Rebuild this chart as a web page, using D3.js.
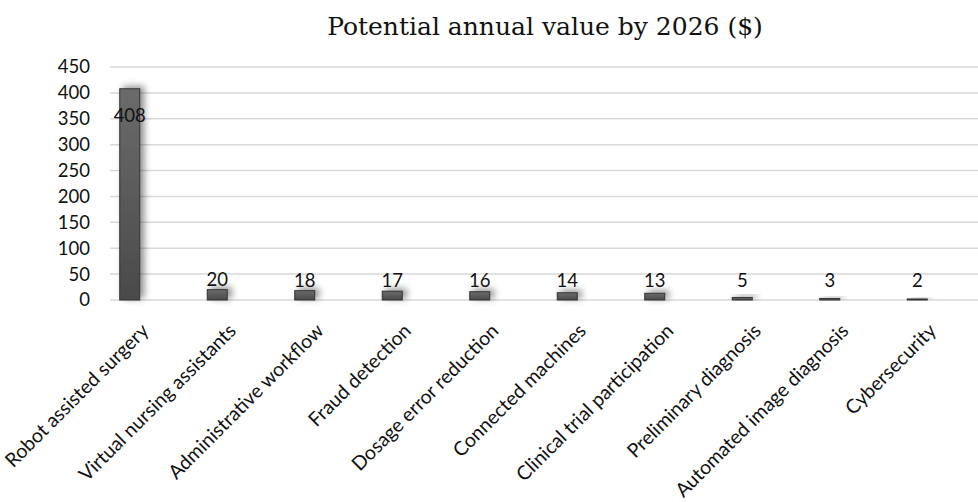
<!DOCTYPE html>
<html>
<head>
<meta charset="utf-8">
<script src="https://cdn.jsdelivr.net/npm/d3@7"></script>
<style>
  body { margin: 0; background: #fff; }
  svg { display: block; }
</style>
</head>
<body>
<div id="chart"></div>
<script>
// Data
const categories = ["Robot assisted surgery", "Virtual nursing assistants", "Administrative workflow",
  "Fraud detection", "Dosage error reduction", "Connected machines", "Clinical trial participation",
  "Preliminary diagnosis", "Automated image diagnosis", "Cybersecurity"];
const values = [408, 20, 18, 17, 16, 14, 13, 5, 3, 2];
const yTicks = [0, 50, 100, 150, 200, 250, 300, 350, 400, 450];

const width = 978, height = 502;
const margin = {left: 110, right: 0, top: 67, bottom: 202};

const svg = d3.select("#chart").append("svg")
  .attr("width", width)
  .attr("height", height);

const x = d3.scaleBand().domain(categories).range([86, 961]).paddingInner(0);
const y = d3.scaleLinear().domain([0, 450]).range([height - margin.bottom, margin.top]);

// shadow + gradient
const defs = svg.append("defs");
const f = defs.append("filter").attr("id", "shadow")
  .attr("x", "-100%").attr("y", "-100%").attr("width", "300%").attr("height", "300%");
f.append("feGaussianBlur").attr("in", "SourceAlpha").attr("stdDeviation", 3.5).attr("result", "b");
f.append("feOffset").attr("in", "b").attr("dx", 4).attr("dy", -2).attr("result", "o");
f.append("feComponentTransfer").attr("in", "o").attr("result", "s")
  .append("feFuncA").attr("type", "linear").attr("slope", 0.45);
const fm = f.append("feMerge");
fm.append("feMergeNode").attr("in", "s");
fm.append("feMergeNode").attr("in", "SourceGraphic");

const g = defs.append("linearGradient").attr("id", "barGrad")
  .attr("x1", 0).attr("y1", 0).attr("x2", 0).attr("y2", 1);
g.append("stop").attr("offset", "0%").attr("stop-color", "#6b6b6b");
g.append("stop").attr("offset", "100%").attr("stop-color", "#4a4a4a");

// title
svg.append("text")
  .attr("x", 545).attr("y", 35)
  .attr("text-anchor", "middle")
  .attr("font-family", "DejaVu Serif")
  .attr("font-size", "25px")
  .attr("fill", "#111")
  .text("Potential annual value by 2026 ($)");

// gridlines
svg.append("g")
  .selectAll("line")
  .data(yTicks)
  .join("line")
    .attr("x1", margin.left).attr("x2", width)
    .attr("y1", d => y(d)).attr("y2", d => y(d))
    .attr("stroke", "#d9d9d9")
    .attr("stroke-width", 1.5);

// y axis labels
const yAxis = svg.append("g")
  .attr("transform", `translate(${margin.left - 20}, 0)`)
  .call(d3.axisLeft(y).tickValues(yTicks).tickSize(0).tickPadding(0));
yAxis.select(".domain").remove();
yAxis.selectAll("text")
  .attr("font-family", "Lato")
  .attr("font-size", "18.5px")
  .attr("fill", "#111");

// bars
const bw = 20;
svg.append("g")
  .selectAll("rect")
  .data(values)
  .join("rect")
    .attr("x", (d, i) => x(categories[i]) + x.bandwidth() / 2 - bw / 2)
    .attr("y", d => y(d))
    .attr("width", bw)
    .attr("height", d => y(0) - y(d))
    .attr("fill", "url(#barGrad)")
    .attr("stroke", "#333")
    .attr("stroke-width", 1)
    .attr("filter", "url(#shadow)");

// value labels
svg.append("g")
  .selectAll("text")
  .data(values)
  .join("text")
    .attr("x", (d, i) => x(categories[i]) + x.bandwidth() / 2)
    .attr("y", d => d > 100 ? y(d) + 33 : Math.min(y(d) - 4, y(0) - 13))
    .attr("text-anchor", "middle")
    .attr("font-family", "Lato")
    .attr("font-size", "18.5px")
    .attr("fill", "#111")
    .text(d => d);

// x axis labels
const xAxis = svg.append("g")
  .attr("transform", `translate(0, ${y(0)})`)
  .call(d3.axisBottom(x).tickSize(0).tickPadding(0));
xAxis.select(".domain").remove();
xAxis.selectAll("text")
  .attr("font-family", "Lato")
  .attr("font-size", "19.5px")
  .attr("fill", "#111")
  .attr("text-anchor", "end")
  .attr("dy", 0)
  .attr("transform", "translate(20, 32) rotate(-45)");
</script>
</body>
</html>
